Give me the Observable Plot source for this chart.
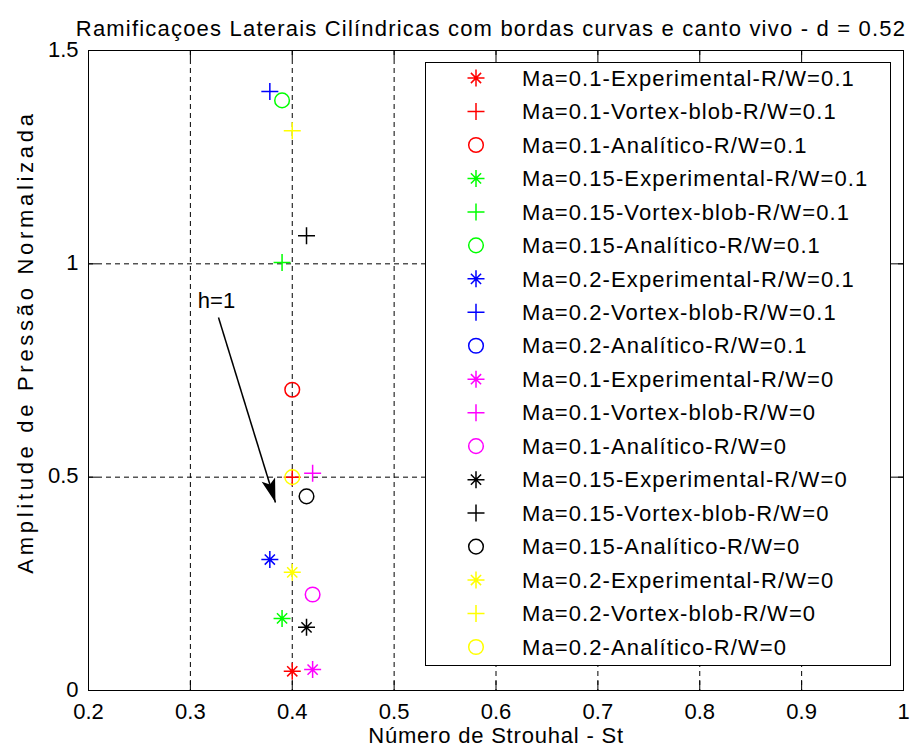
<!DOCTYPE html>
<html><head><meta charset="utf-8">
<script src="https://cdn.jsdelivr.net/npm/d3@7"></script>
<script src="https://cdn.jsdelivr.net/npm/@observablehq/plot@0.6"></script>
<style>body{margin:0;background:#fff}</style>
</head><body><div id="chart"></div>
<script>
const titleText = "Ramificaçoes Laterais Cilíndricas com bordas curvas e canto vivo - d = 0.52";
const xLabel = "Número de Strouhal - St";
const yLabel = "Amplitude de Pressão Normalizada";
const xTicks = [0.2, 0.3, 0.4, 0.5, 0.6, 0.7, 0.8, 0.9, 1];
const yTicks = [0, 0.5, 1, 1.5];

const seriesMach = ["0.1","0.1","0.1","0.15","0.15","0.15","0.2","0.2","0.2","0.1","0.1","0.1","0.15","0.15","0.15","0.2","0.2","0.2"];
const seriesMethod = ["Experimental","Vortex-blob","Analítico","Experimental","Vortex-blob","Analítico","Experimental","Vortex-blob","Analítico","Experimental","Vortex-blob","Analítico","Experimental","Vortex-blob","Analítico","Experimental","Vortex-blob","Analítico"];
const seriesRW = ["0.1","0.1","0.1","0.1","0.1","0.1","0.1","0.1","0.1","0","0","0","0","0","0","0","0","0"];
const strouhal = [0.400, 0.400, 0.400, 0.390, 0.390, 0.390, 0.378, 0.378, null, 0.420, 0.420, 0.420, 0.414, 0.414, 0.414, 0.400, 0.400, 0.400];
const amplitude = [0.045, 0.500, 0.705, 0.169, 1.003, 1.383, 0.307, 1.404, null, 0.049, 0.509, 0.225, 0.148, 1.066, 0.455, 0.277, 1.312, 0.500];

const annotText = "h=1";
const annotAt = [0.3256, 0.914];
const arrowFrom = [0.3276, 0.874];
const arrowTo = [0.3835, 0.4406];

const groupKeys = ["0.1|0.1","0.15|0.1","0.2|0.1","0.1|0","0.15|0","0.2|0"];
const groupColors = ["#ff0000","#00ff00","#0000ff","#ff00ff","#000000","#ffff00"];
const methodKeys = ["Experimental","Vortex-blob","Analítico"];

const rows = seriesMach.map((m, i) => ({
  label: `Ma=${m}-${seriesMethod[i]}-R/W=${seriesRW[i]}`,
  group: `${m}|${seriesRW[i]}`,
  method: seriesMethod[i],
  st: strouhal[i],
  amp: amplitude[i]
}));

const star = {draw(ctx, size) {
  const r = Math.sqrt(size / Math.PI), d = r * 0.6;
  ctx.moveTo(-r, 0); ctx.lineTo(r, 0);
  ctx.moveTo(0, -r); ctx.lineTo(0, r);
  ctx.moveTo(-d, -d); ctx.lineTo(d, d);
  ctx.moveTo(-d, d); ctx.lineTo(d, -d);
}};
const plus = {draw(ctx, size) {
  const r = Math.sqrt(size / Math.PI);
  ctx.moveTo(-r, 0); ctx.lineTo(r, 0);
  ctx.moveTo(0, -r); ctx.lineTo(0, r);
}};
const ring = {draw(ctx, size) {
  const r = Math.sqrt(size / Math.PI) * 0.86;
  ctx.moveTo(r, 0); ctx.arc(0, 0, r, 0, 2 * Math.PI);
}};
const head = {draw(ctx) {
  const L = 24, w = 7;
  ctx.moveTo(0, 0); ctx.lineTo(-w, L); ctx.lineTo(0, L * 0.78); ctx.lineTo(w, L); ctx.closePath();
}};
const methodSymbols = [star, plus, ring];

const W = 911, H = 752, mL = 88, mR = 8, mT = 50, mB = 62;
const plotW = W - mL - mR, plotH = H - mT - mB;
const xs = Plot.scale({x: {domain: [0.2, 1], range: [mL, W - mR]}});
const ys = Plot.scale({y: {domain: [0, 1.5], range: [H - mB, mT]}});
const ax = xs.apply(arrowTo[0]) - xs.apply(arrowFrom[0]);
const ay = ys.apply(arrowTo[1]) - ys.apply(arrowFrom[1]);
const headAngle = Math.atan2(ax, -ay) * 180 / Math.PI;

const font = "'Liberation Sans', Arial, Helvetica, sans-serif";
const tickLen = 9;

const chart = Plot.plot({
  width: W, height: H,
  marginLeft: mL, marginRight: mR, marginTop: mT, marginBottom: mB,
  style: {fontFamily: font, fontSize: "22px", background: "#fff", color: "#000", overflow: "visible"},
  x: {domain: [0.2, 1], axis: null},
  y: {domain: [0, 1.5], axis: null},
  color: {type: "ordinal", domain: groupKeys, range: groupColors},
  symbol: {type: "ordinal", domain: methodKeys, range: methodSymbols},
  marks: [
    Plot.ruleX(xTicks.slice(1, -1), {stroke: "#000", strokeWidth: 1, strokeDasharray: "5,4"}),
    Plot.ruleY(yTicks.slice(1, -1), {stroke: "#000", strokeWidth: 1, strokeDasharray: "5,4"}),
    Plot.tickX(xTicks, {x: d => d, insetTop: plotH - tickLen, stroke: "#000"}),
    Plot.tickX(xTicks, {x: d => d, insetBottom: plotH - tickLen, stroke: "#000"}),
    Plot.tickY(yTicks, {y: d => d, insetRight: plotW - tickLen, stroke: "#000"}),
    Plot.tickY(yTicks, {y: d => d, insetLeft: plotW - tickLen, stroke: "#000"}),
    Plot.frame({stroke: "#000", strokeWidth: 1}),
    Plot.text(xTicks, {x: d => d, frameAnchor: "bottom", dy: 28, text: d => String(d), fontSize: 22, fill: "#000"}),
    Plot.text(yTicks, {y: d => d, frameAnchor: "left", dx: -10, dy: -1, textAnchor: "end", text: d => String(d), fontSize: 22, fill: "#000"}),
    Plot.text([titleText], {frameAnchor: "top", dx: -5, dy: -30, text: d => d, fontSize: 22, fill: "#000"}),
    Plot.text([xLabel], {frameAnchor: "bottom", dy: 52, text: d => d, fontSize: 22, fill: "#000"}),
    Plot.dot(rows.filter(d => d.st != null), {x: "st", y: "amp", stroke: "group", symbol: "method", r: 8.5, fill: "none", strokeWidth: 1.5}),
    Plot.link([0], {x1: () => arrowFrom[0], y1: () => arrowFrom[1], x2: () => arrowTo[0], y2: () => arrowTo[1], stroke: "#000", strokeWidth: 1.5}),
    Plot.dot([arrowTo], {x: d => d[0], y: d => d[1], symbol: head, r: 5, fill: "#000", stroke: "none", rotate: headAngle}),
    Plot.text([annotAt], {x: d => d[0], y: d => d[1], text: () => annotText, fontSize: 22, fill: "#000"})
  ]
});
document.getElementById("chart").appendChild(chart);

const svg = d3.select(chart);
svg.selectAll("text").filter(function() { return this.textContent === titleText; }).style("letter-spacing", "1.2px");
svg.selectAll("text").filter(function() { return this.textContent === xLabel; }).style("letter-spacing", "0.8px");

// y axis title
svg.append("text")
  .attr("transform", "translate(25,342) rotate(-90)")
  .attr("text-anchor", "middle").attr("dy", "0.35em")
  .attr("font-family", font).attr("font-size", 22).attr("fill", "#000")
  .style("letter-spacing", "3.7px")
  .text(yLabel);

// legend
const lg = svg.append("g").attr("font-family", font).attr("font-size", 22).attr("text-anchor", "start");
lg.append("rect").attr("x", 425.5).attr("y", 62.5).attr("width", 465).attr("height", 603)
  .attr("fill", "#fff").attr("stroke", "#000").attr("stroke-width", 1);
const colorOf = k => groupColors[groupKeys.indexOf(k)];
const symOf = m => methodSymbols[methodKeys.indexOf(m)];
rows.forEach((d, i) => {
  const y = 78 + i * 33.47;
  lg.append("path")
    .attr("d", d3.symbol().type(symOf(d.method)).size(Math.PI * 8.5 * 8.5)())
    .attr("transform", `translate(476,${y})`)
    .attr("fill", "none").attr("stroke", colorOf(d.group)).attr("stroke-width", 1.5);
  lg.append("text").attr("x", 522).attr("y", y).attr("dy", "0.35em")
    .attr("text-anchor", "start")
    .style("letter-spacing", "1.1px").attr("fill", "#000").text(d.label);
});
</script>
</body></html>
